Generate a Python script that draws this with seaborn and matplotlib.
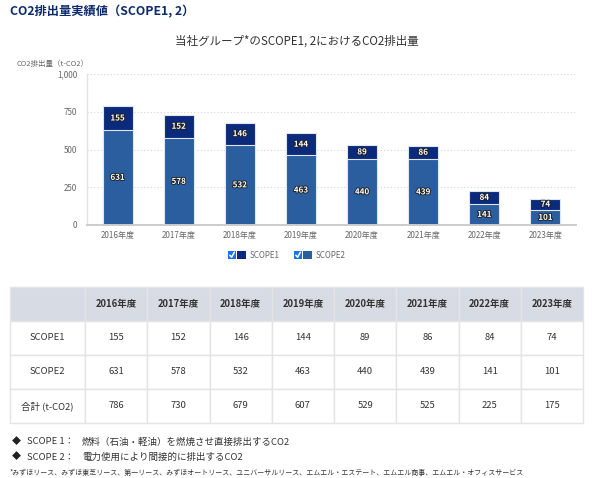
"""
CO2 emissions (SCOPE1, 2) stacked bar chart with data table below
"""

import matplotlib
matplotlib.use("Agg")
import pandas as pd
import matplotlib.pyplot as plt
import matplotlib.patheffects as pe
from matplotlib.patches import Rectangle
from matplotlib.lines import Line2D
import seaborn as sns

# Data
years = ["2016年度", "2017年度", "2018年度", "2019年度",
         "2020年度", "2021年度", "2022年度", "2023年度"]
scope1 = [155, 152, 146, 144, 89, 86, 84, 74]
scope2 = [631, 578, 532, 463, 440, 439, 141, 101]
totals = [786, 730, 679, 607, 529, 525, 225, 175]
row_labels = ["SCOPE1", "SCOPE2", "合計 (t-CO2)"]
y_ticks = [0, 250, 500, 750, 1000]

NAVY = "#0b2a7c"
BLUE = "#2a5e9e"
W, H = 594, 478


def fx(px):
    return px / W


def fy(py):
    return 1 - py / H


sns.set_theme(style="white")
plt.rcParams["font.family"] = ["Noto Sans CJK JP", "DejaVu Sans"]

fig = plt.figure(figsize=(W / 100, H / 100), dpi=100)

# Titles
fig.text(fx(10), fy(12), "CO2排出量実績値（SCOPE1, 2）", fontsize=8.8,
         weight="bold", color="#0d2a6e", va="center")
fig.text(0.5, fy(41), "当社グループ*のSCOPE1, 2におけるCO2排出量", fontsize=8.3,
         color="#333333", ha="center", va="center")
fig.text(fx(17), fy(64), "CO2排出量（t-CO2）", fontsize=5.4, color="#666666",
         va="center")

# Chart
ax = fig.add_axes([fx(87), fy(225), fx(576) - fx(87), fy(74) - fy(225)])
df = pd.DataFrame({"year": years, "scope1": scope1, "scope2": scope2})
df["stack"] = df["scope1"] + df["scope2"]

sns.barplot(data=df, x="year", y="stack", color=NAVY, saturation=1,
            width=0.49, edgecolor="#dfe6f0", linewidth=0.8, ax=ax)
sns.barplot(data=df, x="year", y="scope2", color=BLUE, saturation=1,
            width=0.49, edgecolor="#dfe6f0", linewidth=0.8, ax=ax)

outline = [pe.withStroke(linewidth=1.3, foreground="#222222")]
for i, (s1, s2) in enumerate(zip(scope1, scope2)):
    ax.text(i, s2 / 2, str(s2), ha="center", va="center", fontsize=5.8,
            color="white", weight="bold", path_effects=outline)
    ax.text(i, s2 + s1 / 2, str(s1), ha="center", va="center", fontsize=5.8,
            color="white", weight="bold", path_effects=outline)

ax.set_xlim(-0.5, len(years) - 0.5)
ax.set_ylim(0, 1000)
ax.set_yticks(y_ticks)
ax.set_yticklabels([f"{v:,}" for v in y_ticks])
ax.set_xlabel("")
ax.set_ylabel("")
ax.yaxis.grid(True, linestyle=(0, (1, 2)), color="#d5d5d5", linewidth=0.8)
ax.set_axisbelow(True)
ax.tick_params(axis="both", length=0, labelsize=5.8, labelcolor="#666666")
ax.tick_params(axis="x", pad=4)
ax.tick_params(axis="y", pad=7)
for side in ["top", "right"]:
    ax.spines[side].set_visible(False)
ax.spines["left"].set_color("#e2e2e2")
ax.spines["left"].set_linewidth(1)
ax.spines["bottom"].set_color("#cccccc")
ax.spines["bottom"].set_linewidth(1.4)

# Legend (checkbox + colour swatch + label)
for x0, color, label in [(228, NAVY, "SCOPE1"), (294, BLUE, "SCOPE2")]:
    fig.add_artist(Rectangle((fx(x0), fy(259)), 8 / W, 8 / H,
                             transform=fig.transFigure, facecolor="#1a73e8",
                             edgecolor="none"))
    fig.add_artist(Line2D([fx(x0 + 1.8), fx(x0 + 3.6), fx(x0 + 6.4)],
                          [fy(255.2), fy(257.2), fy(252.2)],
                          transform=fig.transFigure, color="white", lw=1.1))
    fig.add_artist(Rectangle((fx(x0 + 9), fy(259)), 9 / W, 8 / H,
                             transform=fig.transFigure, facecolor=color,
                             edgecolor="none"))
    fig.text(fx(x0 + 22), fy(255), label, fontsize=5.8, color="#666666",
             va="center")

# Table
ax_t = fig.add_axes([fx(10), fy(423), fx(583) - fx(10), fy(287) - fy(423)])
ax_t.axis("off")
cells = [[""] + years]
for label, vals in zip(row_labels, [scope1, scope2, totals]):
    cells.append([label] + [str(v) for v in vals])
col_w = [75] + [62.25] * len(years)
col_w = [w / sum(col_w) for w in col_w]
tbl = ax_t.table(cellText=cells, colWidths=col_w, bbox=[0, 0, 1, 1],
                 cellLoc="center")
tbl.auto_set_font_size(False)
tbl.set_fontsize(6.8)
for (r, c), cell in tbl.get_celld().items():
    cell.set_edgecolor("#e4e4e4")
    cell.set_linewidth(1)
    cell.get_text().set_color("#333333")
    if r == 0:
        cell.set_facecolor("#d7dbe4")
        cell.get_text().set_weight("bold")
    else:
        cell.set_facecolor("white")
    if c == 0 and r > 0:
        cell._loc = "left"
        cell.PAD = 0.12

# Notes
notes = [("SCOPE 1：", "燃料（石油・軽油）を燃焼させ直接排出するCO2", 442),
         ("SCOPE 2：", "電力使用により間接的に排出するCO2", 457)]
for head, desc, py in notes:
    fig.text(fx(12), fy(py), "◆", fontsize=6.5, color="#222222", va="center")
    fig.text(fx(27), fy(py), head, fontsize=6.8, color="#333333", va="center")
    fig.text(fx(82), fy(py), desc, fontsize=6.8, color="#333333", va="center")
fig.text(fx(10), fy(473),
         "*みずほリース、みずほ東芝リース、第一リース、みずほオートリース、"
         "ユニバーサルリース、エムエル・エステート、エムエル商事、エムエル・オフィスサービス",
         fontsize=5, color="#333333", va="center")

fig.savefig("out.png", dpi=100)
plt.close(fig)
